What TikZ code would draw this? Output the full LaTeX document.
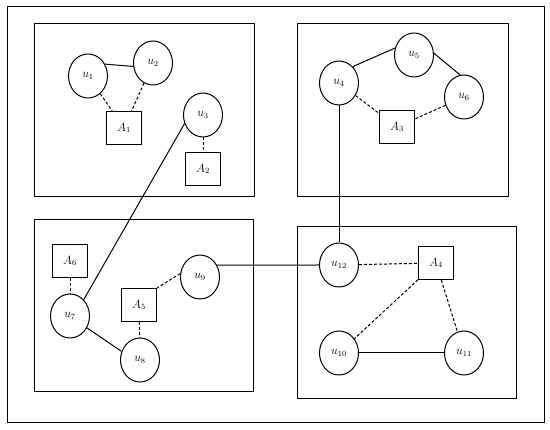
\documentclass[tikz,border=0pt]{standalone}
\usetikzlibrary{shapes.geometric}
\begin{document}
\begin{tikzpicture}[x=1pt, y=-1pt, line width=1pt,
	usuario/.style={ellipse, draw, minimum width=39pt, minimum height=44pt, inner sep=0pt, font=\large},
	agente/.style={rectangle, draw, minimum width=35pt, minimum height=33pt, inner sep=0pt, font=\large},
	enlace/.style={dash pattern=on 3pt off 2pt}]

\useasboundingbox (0,0) rectangle (550,430);

% Marco y cajas
\draw (7,7) rectangle (544,423);
\draw (34,24) rectangle (254,197);
\draw (297,24) rectangle (508,197);
\draw (34,220) rectangle (253,392);
\draw (297,227) rectangle (516,399);

% Usuarios
\foreach \n/\x/\y in {1/88/76, 2/153/63, 3/203/115, 4/339/83, 5/414/55, 6/464/97,
		7/70/316, 8/140/360, 9/200/277, 10/339/353, 11/464/353, 12/339/265}
	\node[usuario] (u\n) at (\x,\y) {$u_{\n}$};

% Agentes
\foreach \n/\x/\y in {1/124/128, 2/203/169, 3/397/127, 4/436/263, 5/139/305, 6/70/261}
	\node[agente] (A\n) at (\x,\y) {$A_{\n}$};

% Enlaces
\draw (u1.35) -- (u2.190);
\draw[enlace] (u1) -- (A1);
\draw[enlace] (u2) -- (A1);
\draw[enlace] (u3) -- (A2);
\draw (u3.205) -- (u7.50);

\draw (u4.50) -- (u5.160);
\draw (u5.5) -- (u6.100);
\draw[enlace] (u4) -- (A3);
\draw[enlace] (u6) -- (A3);
\draw (u4) -- (u12);

\draw (u9.35) -- (u12.west);
\draw[enlace] (u12) -- (A4);
\draw[enlace] (A4) -- (u10);
\draw[enlace] (A4) -- (u11);
\draw (u10) -- (u11);

\draw[enlace] (A6) -- (u7);
\draw (u7.-35) -- (u8.155);
\draw[enlace] (A5) -- (u8);
\draw[enlace] (u9.170) -- (A5.north east);
\end{tikzpicture}
\end{document}
